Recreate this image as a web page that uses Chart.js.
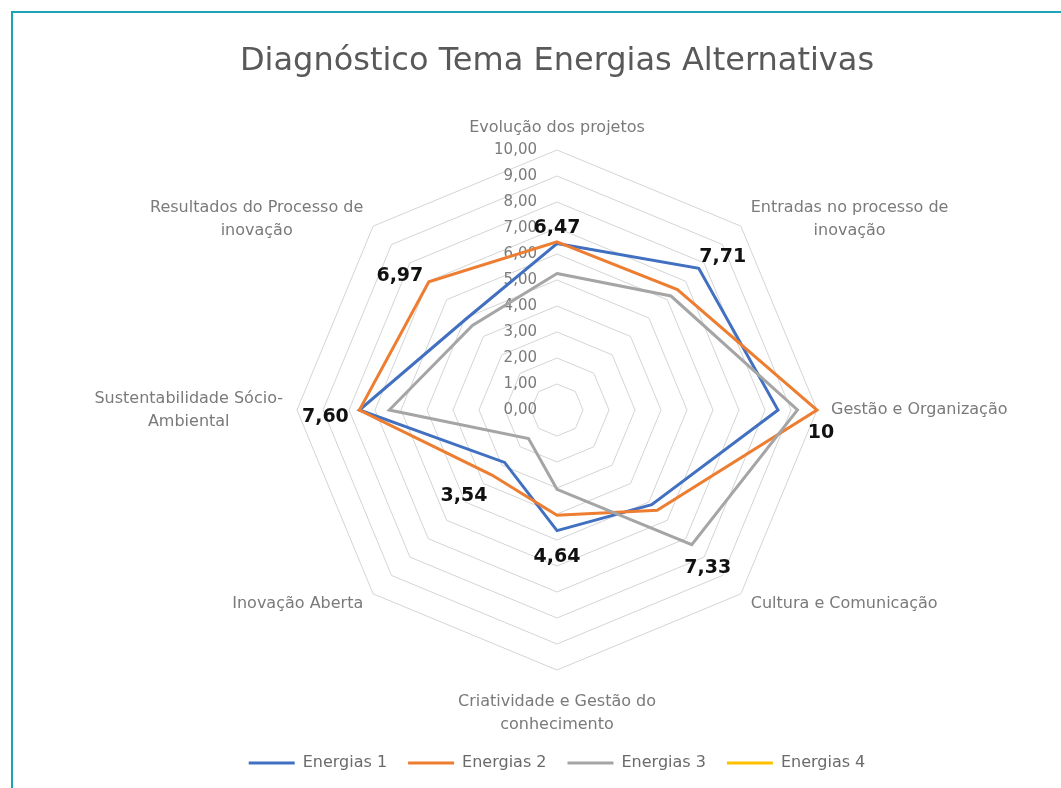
<!DOCTYPE html>
<html>
<head>
<meta charset="utf-8">
<script src="https://cdn.jsdelivr.net/npm/chart.js@4.4.1/dist/chart.umd.min.js"></script>
<style>
html,body{margin:0;padding:0;background:#fff;}
#wrap{position:relative;width:1061px;height:788px;overflow:hidden;background:#fff;}
#frame{position:absolute;left:11px;top:11px;width:1100px;height:820px;border-top:2px solid #1ba3b6;border-left:2px solid #1ba3b6;box-sizing:border-box;pointer-events:none;}
canvas{position:absolute;left:0;top:0;}
</style>
</head>
<body>
<div id="wrap"><canvas id="c" width="1061" height="788"></canvas><div id="frame"></div></div>
<script>
const titleText = 'Diagnóstico Tema Energias Alternativas';
const categories = [
  'Evolução dos projetos',
  ['Entradas no processo de', 'inovação'],
  'Gestão e Organização',
  'Cultura e Comunicação',
  ['Criatividade e Gestão do', 'conhecimento'],
  'Inovação Aberta',
  ['Sustentabilidade Sócio-', 'Ambiental'],
  ['Resultados do Processo de', 'inovação']
];
const seriesNames = ['Energias 1', 'Energias 2', 'Energias 3', 'Energias 4'];
const energias1 = [6.40, 7.71, 8.50, 5.15, 4.64, 2.85, 7.60, 4.95];
const energias2 = [6.47, 6.55, 10.00, 5.45, 4.05, 3.54, 7.60, 6.97];
const energias3 = [5.25, 6.20, 9.25, 7.33, 3.05, 1.55, 6.45, 4.60];
const energias4 = [null, null, null, null, null, null, null, null];
const valueLabels = [6.47, 7.71, 10, 7.33, 4.64, 3.54, 7.60, 6.97];
const tickLabels = ['0,00','1,00','2,00','3,00','4,00','5,00','6,00','7,00','8,00','9,00','10,00'];

// label placement offsets (style, px) relative to the data point
const valueLabelOffsets = [[0,-14],[24,-11],[4,23],[16,23],[0,26],[-28,21],[-34,7],[-29,-6]];

function fmtValue(v){
  return Number.isInteger(v) ? String(v) : v.toFixed(2).replace('.', ',');
}

const textPlugin = {
  id: 'radarText',
  beforeDatasetsDraw(chart){
    const s = chart.scales.r, ctx = chart.ctx;
    ctx.save();
    // tick labels
    ctx.font = '15px "DejaVu Sans"';
    ctx.fillStyle = '#7a7a7a';
    ctx.textAlign = 'right';
    ctx.textBaseline = 'middle';
    s.ticks.forEach((t, i) => {
      const d = s.getDistanceFromCenterForValue(t.value);
      ctx.fillText(tickLabels[i], s.xCenter - 20, s.yCenter - d);
    });
    // category labels (multi-line blocks, lines centred within the block)
    ctx.font = '16px "DejaVu Sans"';
    ctx.textAlign = 'center';
    const n = chart.data.labels.length;
    const lh = 23;
    chart.data.labels.forEach((lab, i) => {
      const ang = i * 360 / n;
      const pad = ang === 0 ? 11 : (ang === 180 ? 20 : 14);
      const p = s.getPointPosition(i, s.drawingArea + pad);
      const lines = Array.isArray(lab) ? lab : [lab];
      const w = Math.max(...lines.map(l => ctx.measureText(l).width));
      const h = lines.length * lh;
      let cx;
      if (ang === 0 || ang === 180) cx = p.x;
      else if (ang < 180) cx = p.x + w / 2;
      else cx = p.x - w / 2;
      let top;
      if (ang === 0) top = p.y - h;
      else if (ang === 180) top = p.y;
      else top = p.y - h / 2 + (ang > 270 || ang < 90 ? 3 : 0);
      lines.forEach((ln, k) => ctx.fillText(ln, cx, top + lh / 2 + k * lh));
    });
    ctx.restore();
  },
  afterDatasetsDraw(chart){
    const s = chart.scales.r, ctx = chart.ctx;
    ctx.save();
    ctx.font = 'bold 19px "DejaVu Sans"';
    ctx.fillStyle = '#111';
    ctx.textAlign = 'center';
    ctx.textBaseline = 'middle';
    valueLabels.forEach((v, i) => {
      const p = s.getPointPosition(i, s.getDistanceFromCenterForValue(v));
      const o = valueLabelOffsets[i];
      ctx.fillText(fmtValue(v), p.x + o[0], p.y + o[1]);
    });
    ctx.restore();
  }
};

const colors = ['#4270C0', '#ED7D31', '#A5A5A5', '#FFC000'];
const seriesData = [energias1, energias2, energias3, energias4];

new Chart(document.getElementById('c'), {
  type: 'radar',
  data: {
    labels: categories,
    datasets: seriesData.map((d, i) => ({
      label: seriesNames[i],
      data: d,
      borderColor: colors[i],
      backgroundColor: colors[i],
      borderWidth: 3,
      fill: false,
      pointRadius: 0,
      pointHoverRadius: 0,
      order: 3 - i
    }))
  },
  options: {
    responsive: false,
    animation: false,
    devicePixelRatio: 1,
    layout: { padding: { left: 62, right: 9, top: 20, bottom: 7 } },
    elements: { line: { tension: 0, borderJoinStyle: 'miter' } },
    scales: {
      r: {
        min: 0, max: 10,
        ticks: { stepSize: 1, display: false },
        grid: { color: '#d4d4d4', lineWidth: 1, circular: false },
        angleLines: { display: false },
        pointLabels: { display: false }
      }
    },
    plugins: {
      title: {
        display: true, text: titleText, color: '#595959',
        font: { family: 'DejaVu Sans', size: 32, weight: 'normal' },
        padding: { top: 22.8, bottom: 68.8 }
      },
      legend: {
        position: 'bottom',
        labels: {
          usePointStyle: true, pointStyle: 'line', pointStyleWidth: 46,
          color: '#6a6a6a', font: { family: 'DejaVu Sans', size: 16 }, padding: 21,
          sort: (a, b) => a.datasetIndex - b.datasetIndex
        },
        title: { display: true, text: '', font: { size: 10 }, padding: { top: 52, bottom: 0 } }
      },
      tooltip: { enabled: false }
    }
  },
  plugins: [textPlugin]
});
</script>
</body>
</html>
